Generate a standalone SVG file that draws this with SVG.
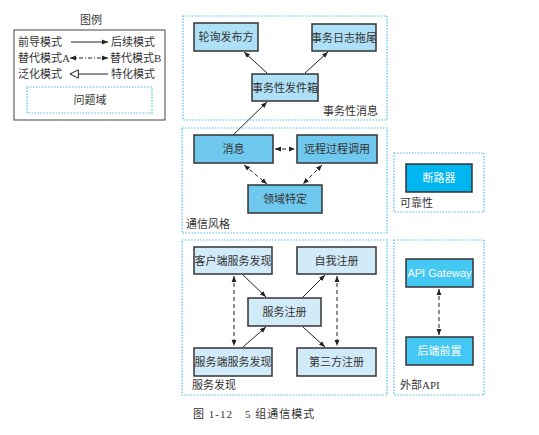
<svg xmlns="http://www.w3.org/2000/svg" width="539" height="435" viewBox="0 0 539 435">
<style>
text{font-family:"Liberation Serif","Noto Sans CJK SC",serif;font-size:11px;fill:#333;}
.c{text-anchor:middle;}
.w{fill:#fff;font-family:"Liberation Sans","Noto Sans CJK SC",sans-serif;}
.n{stroke:#333;stroke-width:1.5;}
.t{fill:#aee0f7;}
.m{fill:#6fc9ee;}
.b{fill:#d2ebf9;}
.r{fill:#00b6f0;}
.e{fill:#42c8f2;}
.dom{fill:none;stroke:#4fbde6;stroke-width:1.2;stroke-dasharray:1.5,1.5;}
.s{stroke:#222;stroke-width:1;fill:none;}
.d{stroke:#222;stroke-width:1;fill:none;stroke-dasharray:4,3;}
</style>
<defs>
<marker id="a" viewBox="0 0 10 10" refX="10" refY="5" markerWidth="6" markerHeight="6" orient="auto-start-reverse" markerUnits="userSpaceOnUse"><path d="M0,1 L10,5 L0,9 z" fill="#222"/></marker>
<marker id="g" viewBox="0 0 12 12" refX="1" refY="6" markerWidth="10" markerHeight="10" orient="auto" markerUnits="userSpaceOnUse"><path d="M11,1 L1,6 L11,11 z" fill="#fff" stroke="#222" stroke-width="1.2"/></marker>
</defs>
<rect width="539" height="435" fill="#fff"/>

<g id="legend">
<text x="91" y="24" class="c">图例</text>
<rect x="14" y="30" width="151" height="90" fill="none" stroke="#444" stroke-width="1"/>
<text x="18" y="46">前导模式</text>
<line x1="71" y1="42" x2="108" y2="42" class="s" marker-end="url(#a)"/>
<text x="111" y="46">后续模式</text>
<text x="18" y="62">替代模式A</text>
<line x1="70" y1="58" x2="108" y2="58" class="s" stroke-dasharray="4,2,1,2" marker-start="url(#a)" marker-end="url(#a)"/>
<text x="110" y="62">替代模式B</text>
<text x="18" y="78">泛化模式</text>
<line x1="70" y1="74" x2="108" y2="74" class="s" marker-start="url(#g)"/>
<text x="111" y="78">特化模式</text>
<rect x="27" y="87" width="125" height="26" class="dom"/>
<text x="90" y="104" class="c">问题域</text>
</g>

<g id="domains">
<rect x="183" y="16" width="204" height="104" class="dom"/>
<text x="323" y="115">事务性消息</text>
<rect x="182" y="128" width="205" height="105" class="dom"/>
<text x="186" y="228">通信风格</text>
<rect x="182" y="240" width="205" height="155" class="dom"/>
<text x="192" y="389">服务发现</text>
<rect x="394" y="153" width="90" height="59" class="dom"/>
<text x="400" y="207">可靠性</text>
<rect x="394" y="240" width="90" height="155" class="dom"/>
<text x="400" y="389">外部API</text>
</g>

<g id="n-poll"><rect x="194" y="23" width="64" height="28" class="n t"/><text x="226" y="41" class="c">轮询发布方</text></g>
<g id="n-tail"><rect x="312" y="24" width="64" height="27" class="n t"/><text x="344" y="41.5" class="c">事务日志拖尾</text></g>
<g id="n-outbox"><rect x="252" y="74" width="66" height="27" class="n t"/><text x="285" y="91.5" class="c">事务性发件箱</text></g>

<g id="n-msg"><rect x="194" y="135" width="79" height="28" class="n m"/><text x="233.5" y="153" class="c">消息</text></g>
<g id="n-rpc"><rect x="297" y="135" width="80" height="28" class="n m"/><text x="337" y="153" class="c">远程过程调用</text></g>
<g id="n-dsl"><rect x="248" y="185" width="74" height="28" class="n m"/><text x="285" y="203" class="c">领域特定</text></g>

<g id="n-client"><rect x="194" y="247" width="78" height="27" class="n b"/><text x="233" y="264.5" class="c">客户端服务发现</text></g>
<g id="n-self"><rect x="297" y="247" width="79" height="27" class="n b"/><text x="336.5" y="264.5" class="c">自我注册</text></g>
<g id="n-reg"><rect x="248" y="298" width="73" height="28" class="n b"/><text x="284.5" y="316" class="c">服务注册</text></g>
<g id="n-server"><rect x="194" y="348" width="78" height="28" class="n b"/><text x="233" y="366" class="c">服务端服务发现</text></g>
<g id="n-third"><rect x="297" y="348" width="79" height="28" class="n b"/><text x="336.5" y="366" class="c">第三方注册</text></g>

<g id="n-breaker"><rect x="406" y="164" width="66" height="28" class="n r"/><text x="439" y="182" class="c w">断路器</text></g>
<g id="n-gateway"><rect x="406" y="259" width="67" height="28" class="n e"/><text x="439.5" y="277" class="c w">API Gateway</text></g>
<g id="n-bff"><rect x="406" y="337" width="67" height="28" class="n e"/><text x="439.5" y="355" class="c w">后端前置</text></g>

<g id="connectors">
<line x1="267" y1="73" x2="244" y2="52" class="s" marker-end="url(#a)"/>
<line x1="305" y1="73" x2="328" y2="52" class="s" marker-end="url(#a)"/>
<line x1="233" y1="135" x2="267" y2="102" class="s" marker-end="url(#a)"/>
<line x1="275" y1="149" x2="295" y2="149" class="d" stroke-dasharray="3,3" marker-start="url(#a)" marker-end="url(#a)"/>
<line x1="244" y1="165" x2="267" y2="184" class="d" marker-start="url(#a)" marker-end="url(#a)"/>
<line x1="322" y1="165" x2="303" y2="184" class="d" marker-start="url(#a)" marker-end="url(#a)"/>
<line x1="243" y1="275" x2="266" y2="297" class="s" marker-end="url(#a)"/>
<line x1="303" y1="297" x2="325" y2="275" class="s" marker-end="url(#a)"/>
<line x1="243" y1="347" x2="266" y2="327" class="s" marker-end="url(#a)"/>
<line x1="303" y1="327" x2="325" y2="347" class="s" marker-end="url(#a)"/>
<line x1="234" y1="276" x2="234" y2="346" class="d" marker-start="url(#a)" marker-end="url(#a)"/>
<line x1="337" y1="276" x2="337" y2="346" class="d" marker-start="url(#a)" marker-end="url(#a)"/>
<line x1="439" y1="289" x2="439" y2="335" class="d" marker-start="url(#a)" marker-end="url(#a)"/>
</g>

<text x="193" y="418" style="letter-spacing:1px">图 1-12　5 组通信模式</text>
</svg>
